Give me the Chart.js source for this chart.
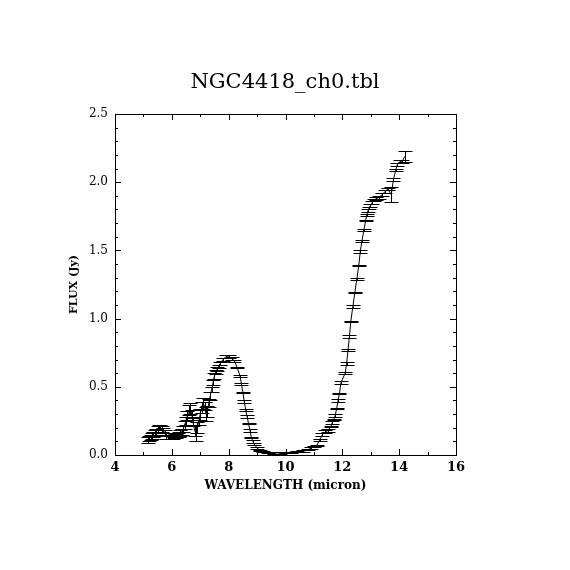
<!DOCTYPE html>
<html>
<head>
<meta charset="utf-8">
<script src="https://cdn.jsdelivr.net/npm/chart.js@4"></script>
<style>
  body { margin: 0; background: #fff; }
  #wrap { width: 570px; height: 570px; }
</style>
</head>
<body>
<div id="wrap"><canvas id="chartFlux" width="570" height="570"></canvas></div>
<script>
// spectrum: wavelength (micron), flux (Jy), 1-sigma error
let wavelength = [
  5.15, 5.2, 5.25, 5.3, 5.35, 5.4, 5.45, 5.5, 5.55, 5.6, 5.65, 5.7, 5.75, 5.8, 5.85, 5.9, 5.95, 6.0,
  6.05, 6.1, 6.15, 6.2, 6.25, 6.3, 6.35, 6.4, 6.45, 6.5, 6.55, 6.6, 6.65, 6.7, 6.75, 6.8, 6.85, 6.9,
  6.95, 7.0, 7.05, 7.1, 7.15, 7.2, 7.25, 7.3, 7.35, 7.4, 7.45, 7.5, 7.55, 7.6, 7.65, 7.7, 7.8, 7.9,
  8.0, 8.1, 8.2, 8.3, 8.4, 8.45, 8.5, 8.55, 8.6, 8.65, 8.7, 8.75, 8.8, 8.85, 8.9, 9.0, 9.1, 9.2,
  9.4, 9.6, 9.8, 10.0, 10.2, 10.4, 10.6, 10.8, 10.9, 11.0, 11.1, 11.2, 11.3, 11.4, 11.5, 11.6, 11.65,
  11.7, 11.75, 11.8, 11.85, 11.9, 11.95, 12.1, 12.15, 12.2, 12.25, 12.3, 12.37, 12.44, 12.51, 12.58,
  12.63, 12.69, 12.76, 12.82, 12.86, 12.9, 12.94, 12.99, 13.05, 13.12, 13.2, 13.3, 13.4, 13.5, 13.6,
  13.72, 13.8, 13.88, 13.94, 14.02, 14.1, 14.2
];
let flux = [
  0.11, 0.12, 0.13, 0.14, 0.15, 0.16, 0.17, 0.19, 0.2, 0.2, 0.19, 0.18, 0.16, 0.14, 0.13, 0.13, 0.13, 0.13,
  0.135, 0.14, 0.14, 0.145, 0.15, 0.16, 0.17, 0.19, 0.22, 0.25, 0.29, 0.33, 0.34, 0.3, 0.24, 0.18, 0.16, 0.2,
  0.25, 0.3, 0.35, 0.38, 0.36, 0.3, 0.32, 0.38, 0.43, 0.48, 0.53, 0.58, 0.61, 0.63, 0.65, 0.67, 0.7, 0.72,
  0.72, 0.71, 0.69, 0.64, 0.58, 0.52, 0.46, 0.39, 0.33, 0.28, 0.23, 0.18, 0.13, 0.1, 0.08, 0.05, 0.035, 0.025,
  0.018, 0.015, 0.015, 0.017, 0.02, 0.025, 0.03, 0.04, 0.05, 0.06, 0.07, 0.11, 0.15, 0.17, 0.18, 0.21, 0.24,
  0.26, 0.29, 0.34, 0.4, 0.45, 0.53, 0.6, 0.67, 0.77, 0.87, 0.98, 1.09, 1.19, 1.29, 1.39,
  1.49, 1.57, 1.65, 1.72, 1.76, 1.79, 1.81, 1.83, 1.85, 1.87, 1.88, 1.89, 1.91, 1.93, 1.95,
  1.91, 2.02, 2.09, 2.13, 2.15, 2.15, 2.19
];
let fluxErr = [
  0.02, 0.02, 0.02, 0.02, 0.02, 0.02, 0.02, 0.02, 0.02, 0.02, 0.02, 0.02, 0.02, 0.02, 0.015, 0.015, 0.015, 0.015,
  0.015, 0.015, 0.015, 0.015, 0.015, 0.02, 0.02, 0.02, 0.03, 0.03, 0.03, 0.04, 0.04, 0.03, 0.03, 0.04, 0.06, 0.04,
  0.03, 0.04, 0.04, 0.04, 0.03, 0.05, 0.04, 0.03, 0.03, 0.02, 0.02, 0.02, 0.015, 0.015, 0.01, 0.01, 0.01, 0.01,
  0.01, 0.01, 0.01, 0.005, 0.005, 0.01, 0.005, 0.01, 0.005, 0.01, 0.005, 0.01, 0.005, 0.01, 0.005, 0.005, 0.005, 0.005,
  0.005, 0.005, 0.005, 0.005, 0.005, 0.005, 0.005, 0.005, 0.005, 0.005, 0.005, 0.01, 0.01, 0.01, 0.01, 0.005, 0.01,
  0.005, 0.01, 0.005, 0.01, 0.005, 0.01, 0.005, 0.01, 0.005, 0.01, 0.005, 0.01, 0.005, 0.01, 0.005,
  0.01, 0.005, 0.01, 0.005, 0.01, 0.01, 0.01, 0.01, 0.01, 0.01, 0.01, 0.01, 0.01, 0.01, 0.01,
  0.055, 0.01, 0.01, 0.01, 0.01, 0.01, 0.04
];

let xTicks = [4, 6, 8, 10, 12, 14, 16];
let yTicks = [0.0, 0.5, 1.0, 1.5, 2.0, 2.5];
let chartTitle = "NGC4418_ch0.tbl";

let points = wavelength.map((w, i) => ({ x: w, y: flux[i] }));

let serif = "'DejaVu Serif', 'Liberation Serif', serif";

// title centred on the whole page, like the pgplot output
let pageTitle = {
  id: "pageTitle",
  afterDraw(chart) {
    let ctx = chart.ctx;
    ctx.save();
    ctx.fillStyle = "#000";
    ctx.font = "21px " + serif;
    ctx.textAlign = "center";
    ctx.textBaseline = "middle";
    ctx.fillText(chartTitle, chart.width / 2, 83);
    ctx.restore();
  },
};

// pgplot style frame: box with inward major + minor ticks on every side
let frameTicks = {
  id: "frameTicks",
  afterDatasetsDraw(chart) {
    let ctx = chart.ctx;
    let a = chart.chartArea;
    let sx = chart.scales.x;
    let sy = chart.scales.y;
    ctx.save();
    ctx.strokeStyle = "#000";
    ctx.lineWidth = 1;
    ctx.strokeRect(a.left + 0.5, a.top + 0.5, a.right - a.left, a.bottom - a.top);
    ctx.beginPath();
    for (let v = 4; v <= 16; v += 1) {
      let px = Math.round(sx.getPixelForValue(v)) + 0.5;
      let len = v % 2 == 0 ? 6 : 3;
      ctx.moveTo(px, a.bottom); ctx.lineTo(px, a.bottom - len);
      ctx.moveTo(px, a.top); ctx.lineTo(px, a.top + len);
    }
    for (let k = 0; k <= 25; k++) {
      let py = Math.round(sy.getPixelForValue(k / 10)) + 0.5;
      let len = k % 5 == 0 ? 6 : 3;
      ctx.moveTo(a.left, py); ctx.lineTo(a.left + len, py);
      ctx.moveTo(a.right, py); ctx.lineTo(a.right - len, py);
    }
    ctx.stroke();
    ctx.restore();
  },
};

// vertical error bars with end caps
let errorBars = {
  id: "errorBars",
  afterDatasetsDraw(chart) {
    let ctx = chart.ctx;
    let sx = chart.scales.x;
    let sy = chart.scales.y;
    ctx.save();
    ctx.strokeStyle = "#000";
    ctx.lineWidth = 1;
    ctx.beginPath();
    for (let i = 0; i < wavelength.length; i++) {
      let px = Math.round(sx.getPixelForValue(wavelength[i])) + 0.5;
      let top = Math.round(sy.getPixelForValue(flux[i] + fluxErr[i])) + 0.5;
      let bot = Math.round(sy.getPixelForValue(flux[i] - fluxErr[i])) + 0.5;
      ctx.moveTo(px, top); ctx.lineTo(px, bot);
      ctx.moveTo(px - 7, top); ctx.lineTo(px + 7, top);
      ctx.moveTo(px - 7, bot); ctx.lineTo(px + 7, bot);
    }
    ctx.stroke();
    ctx.restore();
  },
};

new Chart(document.getElementById("chartFlux").getContext("2d"), {
  type: "line",
  data: {
    datasets: [
      {
        data: points,
        borderColor: "#000",
        borderWidth: 1,
        pointRadius: 0,
        tension: 0,
        fill: false,
      },
    ],
  },
  options: {
    responsive: false,
    animation: false,
    layout: { padding: { left: 0, top: 114, right: 114, bottom: 65 } },
    plugins: {
      legend: { display: false },
      tooltip: { enabled: false },
      title: { display: false },
    },
    scales: {
      x: {
        type: "linear",
        min: 4,
        max: 16,
        afterFit: (scale) => { scale.height = 50; },
        afterBuildTicks: (scale) => { scale.ticks = xTicks.map((v) => ({ value: v })); },
        grid: { display: false, drawTicks: false },
        border: { display: false },
        ticks: {
          padding: 5,
          color: "#000",
          font: { family: serif, size: 13, weight: "bold" },
          maxRotation: 0,
        },
        title: {
          display: true,
          text: "WAVELENGTH (micron)",
          color: "#000",
          font: { family: serif, size: 12, weight: "bold", lineHeight: 1.2 },
          padding: { top: 0, bottom: 11.8 },
        },
      },
      y: {
        min: 0,
        max: 2.5,
        afterFit: (scale) => { scale.width = 115; },
        afterBuildTicks: (scale) => { scale.ticks = yTicks.map((v) => ({ value: v })); },
        grid: { display: false, drawTicks: false },
        border: { display: false },
        ticks: {
          padding: 7,
          color: "#000",
          font: { family: serif, size: 12 },
          callback: (v) => Number(v).toFixed(1),
        },
        title: {
          display: true,
          text: "FLUX (Jy)",
          color: "#000",
          font: { family: serif, size: 11, weight: "bold", lineHeight: 1.2 },
          padding: { top: 67.4, bottom: 0 },
        },
      },
    },
  },
  plugins: [errorBars, frameTicks, pageTitle],
});
</script>
</body>
</html>
